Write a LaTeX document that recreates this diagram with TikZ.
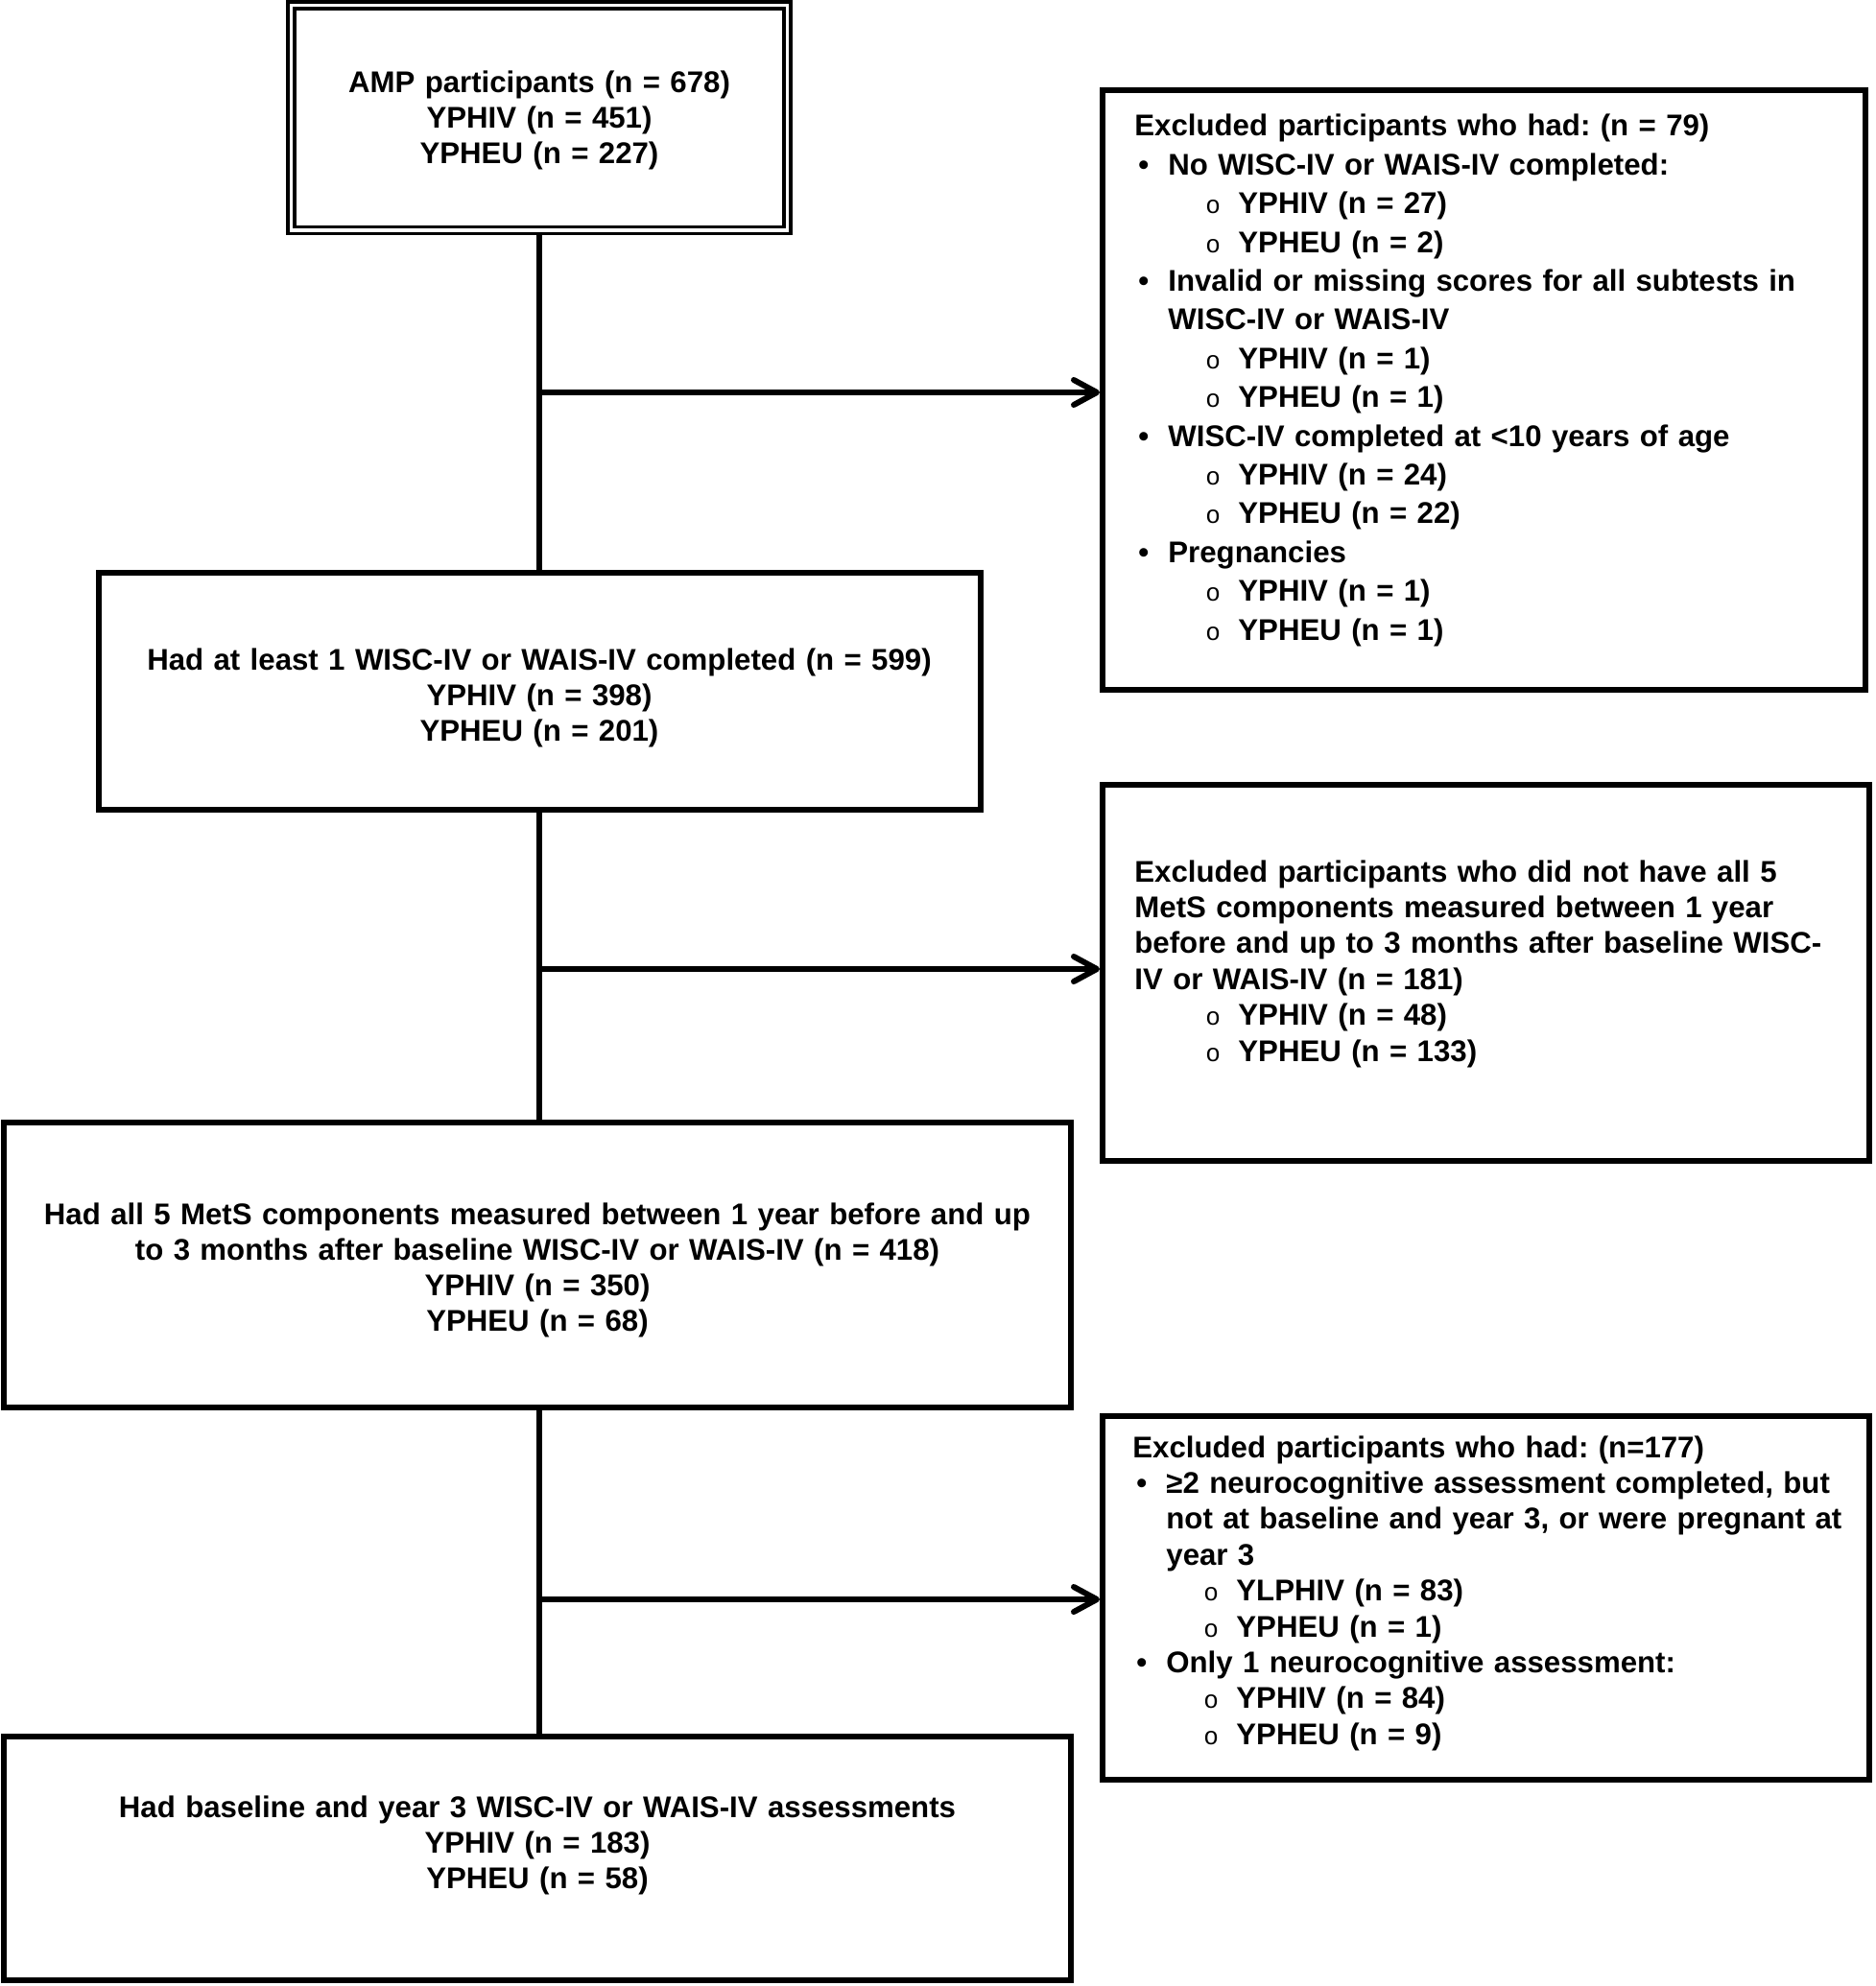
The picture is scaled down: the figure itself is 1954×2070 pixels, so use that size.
\documentclass[tikz,border=0pt]{standalone}
\usepackage{fontspec}
\setmainfont{Liberation Sans}
\newfontfamily\monofnt{Liberation Mono}
\usetikzlibrary{arrows.meta}
\frenchspacing
\newcommand{\mybul}{\hspace*{2pt}\makebox[15.5pt][l]{•}}
\newcommand{\mysub}{\hspace*{37pt}\makebox[17pt][l]{{\monofnt\mdseries\fontsize{13pt}{13pt}\selectfont o}}}
\newcommand{\myind}{\hspace*{17.5pt}}
\begin{document}
\begin{tikzpicture}[x=0.5pt,y=-0.5pt,
  box/.style={draw, line width=3pt, rectangle, inner sep=0pt},
  ctxt/.style={inner sep=0pt, anchor=base, text width=570pt, align=center,
    font=\fontsize{15.6pt}{18.5pt}\selectfont\bfseries\frenchspacing},
  ltxt/.style={inner sep=0pt, anchor=base west, text width=400pt, align=left,
    font=\fontsize{15.6pt}{18.7pt}\selectfont\bfseries\frenchspacing},
  conn/.style={line width=3pt},
  arr/.style={line width=3pt, -{Straight Barb[length=12pt,width=13pt,line cap=round,line join=round]}}]
\useasboundingbox (0,0) rectangle (1954,2070);

% left column boxes
\node[box, double, line width=1.75pt, double distance=1.8pt,
      minimum width=258.6pt, minimum height=117.25pt] (b1) at (562,122.75) {};
\node[box, minimum width=459.5pt, minimum height=123.5pt] (b2) at (562,720.5) {};
\node[box, minimum width=556pt, minimum height=148.5pt] (b3) at (560,1318.5) {};
\node[box, minimum width=556pt, minimum height=127pt] (b4) at (560,1937) {};

% right column boxes
\node[box, minimum width=397.5pt, minimum height=312.5pt] (e1) at (1546.5,406.5) {};
\node[box, minimum width=399.5pt, minimum height=196pt] (e2) at (1548.5,1014) {};
\node[box, minimum width=399.5pt, minimum height=189.5pt] (e3) at (1548.5,1665.5) {};

% texts of left boxes
\node[ctxt] (t1) at (562,97) {AMP participants (n = 678)\\YPHIV (n = 451)\\YPHEU (n = 227)};
\node[ctxt] (t2) at (562,698) {Had at least 1 WISC-IV or WAIS-IV completed (n = 599)\\YPHIV (n = 398)\\YPHEU (n = 201)};
\node[ctxt] (t3) at (560,1276) {Had all 5 MetS components measured between 1 year before and up\\to 3 months after baseline WISC-IV or WAIS-IV (n = 418)\\YPHIV (n = 350)\\YPHEU (n = 68)};
\node[ctxt] (t4) at (560,1894) {Had baseline and year 3 WISC-IV or WAIS-IV assessments\\YPHIV (n = 183)\\YPHEU (n = 58)};

% texts of excluded boxes
\node[ltxt, font=\fontsize{15.6pt}{20.2pt}\selectfont\bfseries\frenchspacing] (et1) at (1182,142) {Excluded participants who had: (n = 79)\\
\mybul No WISC-IV or WAIS-IV completed:\\
\mysub YPHIV (n = 27)\\
\mysub YPHEU (n = 2)\\
\mybul Invalid or missing scores for all subtests in\\
\myind WISC-IV or WAIS-IV\\
\mysub YPHIV (n = 1)\\
\mysub YPHEU (n = 1)\\
\mybul WISC-IV completed at <10 years of age\\
\mysub YPHIV (n = 24)\\
\mysub YPHEU (n = 22)\\
\mybul Pregnancies\\
\mysub YPHIV (n = 1)\\
\mysub YPHEU (n = 1)};

\node[ltxt] (et2) at (1182,919) {Excluded participants who did not have all 5\\
MetS components measured between 1 year\\
before and up to 3 months after baseline WISC-\\
IV or WAIS-IV (n = 181)\\
\mysub YPHIV (n = 48)\\
\mysub YPHEU (n = 133)};

\node[ltxt] (et3) at (1180,1519) {Excluded participants who had: (n=177)\\
\mybul ≥2 neurocognitive assessment completed, but\\
\myind not at baseline and year 3, or were pregnant at\\
\myind year 3\\
\mysub YLPHIV (n = 83)\\
\mysub YPHEU (n = 1)\\
\mybul Only 1 neurocognitive assessment:\\
\mysub YPHIV (n = 84)\\
\mysub YPHEU (n = 9)};

% main vertical line
\draw[conn] (b1.south) -- (b1.south |- b2.north);
\draw[conn] (b1.south |- b2.south) -- (b1.south |- b3.north);
\draw[conn] (b1.south |- b3.south) -- (b1.south |- b4.north);

% junctions and side arrows
\coordinate (y1) at (0,409);
\coordinate (y2) at (0,1010);
\coordinate (y3) at (0,1667);
\coordinate (j1) at (b1.south |- y1);
\coordinate (j2) at (b1.south |- y2);
\coordinate (j3) at (b1.south |- y3);
\draw[arr] (j1) -- (j1 -| e1.west);
\draw[arr] (j2) -- (j2 -| e2.west);
\draw[arr] (j3) -- (j3 -| e3.west);
\end{tikzpicture}
\end{document}
